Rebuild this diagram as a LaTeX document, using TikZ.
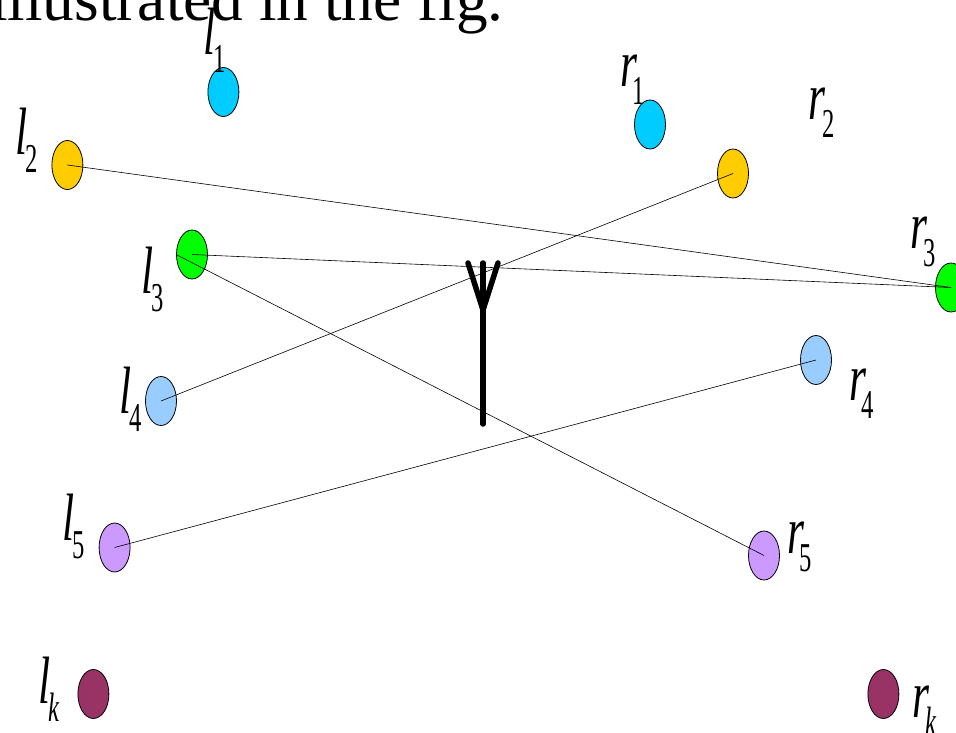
\documentclass[tikz,border=0pt]{standalone}
\usepackage{fontspec}
\setmainfont{Liberation Serif}
\usetikzlibrary{shapes.geometric}
\newcommand{\lbltxt}[3][-2pt]{\scalebox{0.65}[1]{\fontsize{67}{67}\selectfont\itshape #2}\kern#1\raisebox{-18pt}{\scalebox{0.6}[1]{\fontsize{41}{41}\selectfont\ifx#3k\itshape\fi #3}}}
\tikzset{
 dot/.style={ellipse,draw=black,line width=0.8pt,inner sep=0pt,minimum width=31pt,minimum height=49pt,fill=#1},
 link/.style={draw=black,line width=0.6pt},
 mast/.style={draw=black,line width=5.5pt,line cap=round,line join=miter},
 lbl/.style={inner sep=0pt,anchor=base west}
}
\definecolor{cBlue}{HTML}{00CCFF}
\definecolor{cYellow}{HTML}{FFCC00}
\definecolor{cGreen}{HTML}{00FF00}
\definecolor{cSky}{HTML}{99CCFF}
\definecolor{cLilac}{HTML}{CC99FF}
\definecolor{cMaroon}{HTML}{993366}
\begin{document}
\begin{tikzpicture}[x=1pt,y=-1pt]
\useasboundingbox (0,0) rectangle (956,733);
\clip (0,0) rectangle (956,733);
\node[inner sep=0pt,anchor=base west] (title) at (-10,21) {\fontsize{63.3}{63.3}\selectfont illustrated in the fig.};
\node[dot=cBlue] (l1) at (223.4,92) {};
\node[dot=cYellow] (l2) at (67.4,165) {};
\node[dot=cGreen] (l3) at (192,254.5) {};
\node[dot=cSky] (l4) at (161,401) {};
\node[dot=cLilac] (l5) at (114.6,547.5) {};
\node[dot=cMaroon] (lk) at (93.4,694) {};
\node[dot=cBlue] (r1) at (650,124.5) {};
\node[dot=cYellow] (r2) at (733,173.5) {};
\node[dot=cGreen] (r3) at (951,287.5) {};
\node[dot=cSky] (r4) at (816,360) {};
\node[dot=cLilac] (r5) at (764,555.5) {};
\node[dot=cMaroon] (rk) at (883.4,694) {};
\draw[link] (l2.center) -- (r3.center);
\draw[link] (l3.center) -- (r3.center);
\draw[link] (l3.west) -- (r5.center);
\draw[link] (l4.center) -- (r2.center);
\draw[link] (l5.center) -- (r4.center);
\coordinate (mbot) at (483,424);
\coordinate (mjoin) at (483,310);
\coordinate (mtop) at (483,263);
\coordinate (mleft) at (468,263);
\coordinate (mright) at (498,263);
\draw[mast] (mbot) -- (mtop);
\draw[mast] (mleft) -- (mjoin) -- (mright);
\node[lbl] (tl1) at (203,55) {\lbltxt{l}{1}};
\node[lbl] (tl2) at (15,154) {\lbltxt{l}{2}};
\node[lbl] (tl3) at (141,293) {\lbltxt{l}{3}};
\node[lbl] (tl4) at (119,413) {\lbltxt{l}{4}};
\node[lbl] (tl5) at (62,540) {\lbltxt{l}{5}};
\node[lbl] (tlk) at (38,703) {\lbltxt{l}{k}};
\node[lbl] (tr1) at (620,87) {\lbltxt[-5pt]{r}{1}};
\node[lbl] (tr2) at (808,120) {\lbltxt[-3pt]{r}{2}};
\node[lbl] (tr3) at (910,248) {\lbltxt[-4pt]{r}{3}};
\node[lbl] (tr4) at (849,400) {\lbltxt[-5pt]{r}{4}};
\node[lbl] (tr5) at (787,553) {\lbltxt[-5pt]{r}{5}};
\node[lbl] (trk) at (912,717) {\lbltxt[-4pt]{r}{k}};
\end{tikzpicture}
\end{document}
